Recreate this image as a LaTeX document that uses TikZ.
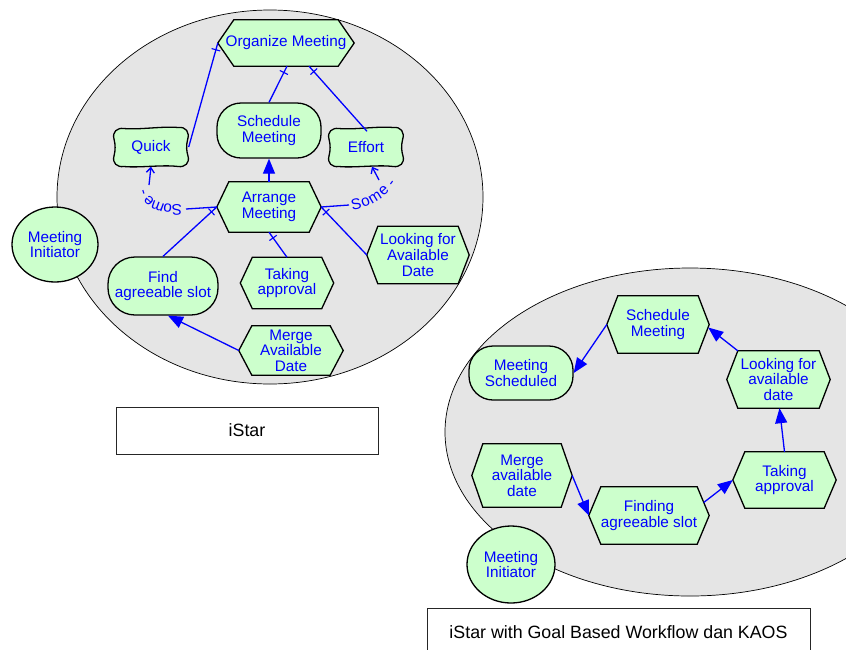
\documentclass[tikz,border=0pt]{standalone}
\usepackage{fontspec}
\setmainfont{Liberation Sans}
\usetikzlibrary{arrows.meta,decorations.markings,decorations.text,shapes.geometric}

\definecolor{bubblegray}{HTML}{E5E5E5}
\definecolor{elemgreen}{HTML}{CCFFCC}
\definecolor{linkblue}{HTML}{0000FF}

\pgfdeclarelayer{back}
\pgfdeclarelayer{mid}
\pgfsetlayers{back,mid,main}

\tikzset{
  lbl/.style={text=linkblue, font=\fontsize{15.3}{15.6}\selectfont, align=center, inner sep=0pt},
  outline/.style={draw=black, line width=1.3pt, fill=elemgreen},
  goal/.style={lbl, outline, rounded corners=24pt},
  actor/.style={lbl, outline, ellipse},
  bubble/.style={draw=black, line width=0.7pt, fill=bubblegray},
  caption/.style={draw=black!85, line width=0.9pt, inner sep=0pt,
    font=\fontsize{17.8}{20}\selectfont, text=black},
  link/.style={draw=linkblue, line width=1.3pt},
  meansend/.style={link, -{Triangle[length=15pt,width=12pt]}},
  decomp/.style={link, postaction={decorate}, decoration={markings,
    mark=at position -7pt with {\draw[linkblue, line width=1.1pt] (0pt,-4.5pt) -- (0pt,4.5pt);}}},
  contrib/.style={link, -{Straight Barb[length=5pt,width=8pt]}},
  contriblabel/.style={decorate, decoration={text along path, text align=center, raise=-5.5pt,
    text={|\fontsize{15.3}{16}\selectfont\color{linkblue}|Some -}}}
}

% task: hexagon with pointed left and right ends
% #1 name, #2 centre, #3 width, #4 height, #5 side inset, #6 label
\newcommand\taskhex[6]{%
  \node[lbl, minimum width=#3, minimum height=#4] (#1) at (#2) {#6};
  \begin{pgfonlayer}{mid}
    \draw[outline] (#1.west) -- ([xshift=#5]#1.north west) -- ([xshift=-#5]#1.north east)
      -- (#1.east) -- ([xshift=-#5]#1.south east) -- ([xshift=#5]#1.south west) -- cycle;
  \end{pgfonlayer}}

% softgoal: cloud outline with puffed corners and hollow sides
% #1 name, #2 centre, #3 label
\newcommand\softgoal[3]{%
  \node[lbl, minimum width=75pt, minimum height=39pt] (#1) at (#2) {#3};
  \begin{pgfonlayer}{mid}
    \begin{scope}[shift={(#1.center)}]
      \draw[outline] (-27,-18.5)
        .. controls (-12,-17) and (12,-21) .. (27,-19.5)
        .. controls (35,-20.5) and (39,-15) .. (36.5,-7)
        .. controls (35,-1) and (35.5,4) .. (37,9)
        .. controls (39,16) and (34,20.5) .. (27,19.5)
        .. controls (12,17.5) and (-12,21) .. (-27,19.5)
        .. controls (-34,20.5) and (-39,16) .. (-37,9)
        .. controls (-35.5,3) and (-35.5,-2) .. (-37,-8)
        .. controls (-39,-15) and (-34,-19.5) .. cycle;
    \end{scope}
  \end{pgfonlayer}}

\begin{document}
\begin{tikzpicture}[x=1pt,y=-1pt]
\useasboundingbox (0,0) rectangle (846,649);
\clip (0,0) rectangle (846,649);

% actor boundaries
\begin{pgfonlayer}{back}
  \fill[white] (0,0) rectangle (846,649);
  \draw[bubble] (270,197) ellipse [x radius=213pt, y radius=187pt];
  \draw[bubble] (690,432) ellipse [x radius=245pt, y radius=164pt];
\end{pgfonlayer}

% ---------- iStar model ----------
\node[actor, minimum width=86pt, minimum height=75pt] (mi1) at (55,244.5) {Meeting\\Initiator};
\taskhex{om}{286,43}{136pt}{46pt}{16pt}{Organize Meeting}
\node[goal, minimum width=104pt, minimum height=55pt] (sm) at (269,130.5) {Schedule\\Meeting};
\softgoal{quick}{151,147}{Quick}
\softgoal{effort}{366,147}{Effort}
\taskhex{am}{269,207}{104pt}{50pt}{12pt}{Arrange\\Meeting}
\node[goal, minimum width=110pt, minimum height=58pt, rounded corners=27pt] (fas) at (163,286) {Find\\agreeable slot};
\taskhex{ta}{287,283}{93pt}{51pt}{12pt}{Taking\\approval}
\taskhex{mad}{291,350.5}{104pt}{49pt}{13pt}{Merge\\Available\\Date}
\taskhex{lad}{418,255}{102pt}{57pt}{11pt}{Looking for\\Available\\Date}

\draw[decomp] (quick.east) -- (om.west);
\draw[decomp] (sm.north) -- ([xshift=1pt]om.south);
\draw[decomp] ([shift={(1pt,-4pt)}]effort.north) -- ([xshift=23pt]om.south);
\draw[meansend] (am.north) -- (sm.south);
\draw[decomp] (fas.north) -- (am.west);
\draw[decomp] (ta.north) -- (am.south);
\draw[decomp] (lad.west) -- (am.east);
\draw[meansend] (mad.west) -- ([xshift=5pt]fas.south);

% contribution links with curved labels
\coordinate (lq1) at (186,209);
\coordinate (lq2) at (141,186);
\coordinate (lq3) at (149,185);
\draw[link] (am.west) -- (lq1);
\path[contriblabel] (lq1) .. controls (162,212) and (142,206) .. (lq2);
\draw[contrib] (lq3) -- (quick.south);

\coordinate (re1) at (349,205);
\coordinate (re2) at (393,178);
\coordinate (re3) at (379,180);
\draw[link] (am.east) -- (re1);
\path[contriblabel] (re1) .. controls (366,203) and (383,194) .. (re2);
\draw[contrib] (re3) -- ([xshift=6pt]effort.south);

\node[caption, minimum width=262pt, minimum height=47pt] (cap1) at (247,430.5) {iStar};

% ---------- goal based workflow model ----------
\taskhex{rsm}{658,324.5}{102pt}{57pt}{11pt}{Schedule\\Meeting}
\node[goal, minimum width=104pt, minimum height=54pt] (ms) at (521,373) {Meeting\\Scheduled};
\taskhex{rlad}{778.5,379.5}{103pt}{57pt}{11pt}{Looking for\\available\\date}
\taskhex{rmad}{522,475.5}{100pt}{63pt}{11pt}{Merge\\available\\date}
\taskhex{rfas}{649,515.5}{120pt}{57pt}{12pt}{Finding\\agreeable slot}
\taskhex{rta}{784.5,480}{103pt}{56pt}{12pt}{Taking\\approval}
\node[actor, minimum width=88pt, minimum height=77pt] (mi2) at (511,564.5) {Meeting\\Initiator};

\draw[meansend] (rsm.west) -- (ms.east);
\draw[meansend] ([xshift=11pt]rlad.north west) -- ([shift={(-1pt,-3pt)}]rsm.east);
\draw[meansend] (rta.north) -- ([xshift=1pt]rlad.south);
\draw[meansend] (rmad.east) -- (rfas.west);
\draw[meansend] ([shift={(-5.5pt,13pt)}]rfas.east) -- (rta.west);

\node[caption, minimum width=383pt, minimum height=48pt] (cap2) at (618.5,632) {iStar with Goal Based Workflow dan KAOS};
\end{tikzpicture}
\end{document}
